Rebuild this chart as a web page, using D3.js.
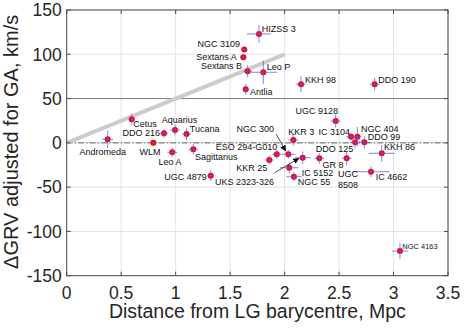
<!DOCTYPE html>
<html>
<head>
<meta charset="utf-8">
<script src="https://cdn.jsdelivr.net/npm/d3@7"></script>
<style>
  body { margin: 0; background: #fff; }
  text { font-family: 'Liberation Sans', Arial, sans-serif; }
</style>
</head>
<body>
<div id="chart"></div>
<script>
// galaxy data
const names = ['Andromeda', 'Cetus', 'WLM', 'DDO 216', 'Aquarius', 'Tucana', 'Leo A', 'Sagittarius',
  'UGC 4879', 'NGC 3109', 'Sextans A', 'Sextans B', 'Leo P', 'Antlia', 'HIZSS 3', 'KKH 98', 'DDO 190',
  'UGC 9128', 'KKR 3', 'IC 3104', 'NGC 404', 'DDO 125', 'DDO 99', 'KKH 86', 'GR 8', 'UGC 8508',
  'IC 4662', 'ESO 294-G010', 'KKR 25', 'NGC 300', 'UKS 2323-326', 'IC 5152', 'NGC 55', 'NGC 4163']
const distance = [0.376, 0.597, 0.795, 0.893, 0.994, 1.10, 0.969, 1.162,
  1.322, 1.630, 1.621, 1.661, 1.805, 1.643, 1.765, 2.151, 2.827,
  2.469, 2.080, 2.610, 2.668, 2.647, 2.732, 2.892, 2.319, 2.570,
  2.793, 1.928, 1.860, 2.034, 2.166, 2.043, 2.086, 3.059]
const dgrv = [4.0, 26.6, 0, 10.8, 14.5, 10, -10.7, -7.3,
  -37.1, 105.3, 96.7, 80.8, 79.7, 60.5, 123, 66.2, 66.2,
  24.7, 3.2, 6.9, 6.9, 0.6, 0.6, -11.8, -17.5, -17.5,
  -32.6, -12.9, -19.4, -12.9, -16.8, -28.1, -38.2, -122.2]
const distErr = [0.05, 0.02, 0.02, 0.04, 0.045, 0.04, 0.045, 0.045,
  0.03, 0.02, 0.03, 0.04, 0.125, 0.03, 0.11, 0.045, 0.045,
  0.045, 0.045, 0.045, 0.04, 0.045, 0.045, 0.12, 0.045, 0.045,
  0.17, 0.04, 0.04, 0.065, 0.07, 0.085, 0.07, 0.075]
const dgrvErr = [10, 6, 1, 5, 6, 7, 5, 6,
  6, 3, 3, 7, 13, 6, 10, 9, 7,
  7.5, 6.5, 4, 11, 6.5, 7, 9.5, 6, 7.5,
  6, 5, 5, 5, 7, 6, 5, 9]

const xTicks = [0, 0.5, 1, 1.5, 2, 2.5, 3, 3.5]
const yTicks = [-150, -100, -50, 0, 50, 100, 150]
const hubbleLine = [[0, 0], [2.0, 100]]

// label placement, pixel offsets from the point
const labelPos = {
  'Andromeda': ['middle', -5, 15.7], 'Cetus': ['start', 1.6, 8], 'DDO 216': ['end', -4, 2.4],
  'Aquarius': ['middle', 4.5, -7], 'Tucana': ['start', 3.3, -1.6], 'WLM': ['middle', -3.3, 12.4],
  'Leo A': ['middle', -2.3, 12.4], 'Sagittarius': ['start', 1.7, 10.4], 'UGC 4879': ['end', -4, 4],
  'UKS 2323-326': ['start', -87.7, 27], 'KKR 25': ['end', -2, 10.7], 'ESO 294-G010': ['end', 0.6, -4.6],
  'NGC 300': ['end', -14.3, -22], 'KKR 3': ['start', -5, -5.3], 'IC 3104': ['end', -1, -2],
  'NGC 404': ['start', 3.7, -4.7], 'DDO 99': ['start', 3.4, -2], 'DDO 125': ['end', -1.7, 9.7],
  'KKH 86': ['start', 2.3, -3.6], 'GR 8': ['start', 3.2, 9.7], 'UGC 8508': ['middle', 1.3, 19],
  'IC 4662': ['start', 4.7, 8], 'IC 5152': ['start', 12.4, 8], 'NGC 55': ['start', 3.7, 8],
  'UGC 9128': ['end', 2.3, -7.3], 'NGC 3109': ['end', -4.3, -2.3], 'Sextans A': ['end', -6.6, 2.4],
  'Sextans B': ['end', -5.7, -2.3], 'Leo P': ['start', 3.4, -2], 'Antlia': ['start', 4.3, 6],
  'HIZSS 3': ['start', 2.7, -2], 'KKH 98': ['start', 4, -1.3], 'DDO 190': ['start', 3.6, -1.3],
  'NGC 4163': ['start', 2.3, -2.5]
}
// arrows: [start dx, start dy, end dx, end dy] relative to the point
const arrows = { 'NGC 300': [-12, -20, -2.5, -3], 'UKS 2323-326': [-28, 15, -3.5, 0.5] }

var width = 464
var height = 334
var margin = { top: 10, left: 66.7, right: 16, bottom: 58.3 }

var svg = d3
  .select('#chart')
  .append('svg')
  .attr('width', width)
  .attr('height', height)

var xScale = d3.scaleLinear().domain([0, 3.5]).range([margin.left, width - margin.right])
var yScale = d3.scaleLinear().domain([-150, 150]).range([height - margin.bottom, margin.top])

var x0 = xScale.range()[0], x1 = xScale.range()[1]
var y0 = yScale.range()[1], y1 = yScale.range()[0]

// grid
svg.selectAll('.gx').data(xTicks).enter().append('line')
  .attr('x1', d => xScale(d)).attr('x2', d => xScale(d))
  .attr('y1', y0).attr('y2', y1)
  .attr('stroke', '#e3e3e3').attr('stroke-width', 1)
svg.selectAll('.gy').data(yTicks).enter().append('line')
  .attr('x1', x0).attr('x2', x1)
  .attr('y1', d => yScale(d)).attr('y2', d => yScale(d))
  .attr('stroke', '#e3e3e3').attr('stroke-width', 1)

// reference lines
svg.append('line')
  .attr('x1', x0).attr('x2', x1)
  .attr('y1', yScale(50)).attr('y2', yScale(50))
  .attr('stroke', '#808080').attr('stroke-width', 1)
svg.append('line')
  .attr('x1', x0).attr('x2', x1)
  .attr('y1', yScale(0)).attr('y2', yScale(0))
  .attr('stroke', '#444').attr('stroke-width', 0.8)
  .attr('stroke-dasharray', '6,2,1.5,2')

svg.append('path')
  .datum(hubbleLine)
  .attr('d', d3.line().x(d => xScale(d[0])).y(d => yScale(d[1])))
  .attr('stroke', '#cccccc').attr('stroke-width', 4).attr('fill', 'none')

var idx = d3.range(names.length)

// markers
svg.selectAll('.dot').data(idx).enter().append('circle')
  .attr('cx', i => xScale(distance[i]))
  .attr('cy', i => yScale(dgrv[i]))
  .attr('r', 3)
  .attr('fill', '#ff0000')

// error bars on top
var eb = svg.append('g').attr('stroke', '#5a5aff').attr('stroke-width', 0.9).attr('opacity', 0.85)
eb.selectAll('.ebx').data(idx).enter().append('line')
  .attr('x1', i => xScale(distance[i] - distErr[i]))
  .attr('x2', i => xScale(distance[i] + distErr[i]))
  .attr('y1', i => yScale(dgrv[i])).attr('y2', i => yScale(dgrv[i]))
eb.selectAll('.eby').data(idx).enter().append('line')
  .attr('x1', i => xScale(distance[i])).attr('x2', i => xScale(distance[i]))
  .attr('y1', i => yScale(dgrv[i] - dgrvErr[i]))
  .attr('y2', i => yScale(dgrv[i] + dgrvErr[i]))

// labels
idx.forEach(i => {
  let p = labelPos[names[i]]
  let t = svg.append('text')
    .attr('x', xScale(distance[i]) + p[1])
    .attr('y', yScale(dgrv[i]) + p[2])
    .attr('text-anchor', p[0])
    .attr('font-size', names[i] === 'NGC 4163' ? 7.5 : 9)
    .attr('fill', '#111')
  if (names[i] === 'UGC 8508') {
    t.append('tspan').attr('x', xScale(distance[i]) + p[1]).text('UGC')
    t.append('tspan').attr('x', xScale(distance[i]) + p[1]).attr('dy', 11).text('8508')
  } else {
    t.text(names[i])
  }
})

// arrows
svg.append('defs').append('marker')
  .attr('id', 'head')
  .attr('viewBox', '0 0 10 10')
  .attr('refX', 10).attr('refY', 5)
  .attr('markerWidth', 6).attr('markerHeight', 6)
  .attr('markerUnits', 'userSpaceOnUse')
  .attr('orient', 'auto')
  .append('path').attr('d', 'M0,0L10,5L0,10z').attr('fill', '#000')

Object.keys(arrows).forEach(n => {
  let i = names.indexOf(n)
  let a = arrows[n]
  let px = xScale(distance[i]), py = yScale(dgrv[i])
  svg.append('line')
    .attr('x1', px + a[0]).attr('y1', py + a[1])
    .attr('x2', px + a[2]).attr('y2', py + a[3])
    .attr('stroke', '#000').attr('stroke-width', 0.7)
    .attr('marker-end', 'url(#head)')
})

// axes box
svg.append('rect')
  .attr('x', x0).attr('y', y0)
  .attr('width', x1 - x0).attr('height', y1 - y0)
  .attr('fill', 'none').attr('stroke', '#4a4a4a').attr('stroke-width', 1)

var tickLen = 4
svg.selectAll('.tx').data(xTicks).enter().append('path')
  .attr('d', d => `M${xScale(d)},${y1}v${-tickLen}M${xScale(d)},${y0}v${tickLen}`)
  .attr('stroke', '#4a4a4a')
svg.selectAll('.ty').data(yTicks).enter().append('path')
  .attr('d', d => `M${x0},${yScale(d)}h${tickLen}M${x1},${yScale(d)}h${-tickLen}`)
  .attr('stroke', '#4a4a4a')

svg.selectAll('.xl').data(xTicks).enter().append('text')
  .text(d => d)
  .attr('x', d => xScale(d))
  .attr('y', y1 + 23.5)
  .attr('text-anchor', 'middle')
  .attr('font-size', 17.5)
  .attr('fill', '#262626')
svg.selectAll('.yl').data(yTicks).enter().append('text')
  .text(d => d)
  .attr('x', x0 - 5)
  .attr('y', d => yScale(d))
  .attr('dy', '0.36em')
  .attr('text-anchor', 'end')
  .attr('font-size', 17.5)
  .attr('fill', '#262626')

svg.append('text')
  .text('Distance from LG barycentre, Mpc')
  .attr('x', (x0 + x1) / 2)
  .attr('y', 318)
  .attr('text-anchor', 'middle')
  .attr('font-size', 19.5)
  .attr('fill', '#262626')

svg.append('text')
  .text('\u0394GRV adjusted for GA, km/s')
  .attr('transform', `translate(18,${(y0 + y1) / 2 - 1}) rotate(-90)`)
  .attr('text-anchor', 'middle')
  .attr('font-size', 20)
  .attr('fill', '#262626')
</script>
</body>
</html>
